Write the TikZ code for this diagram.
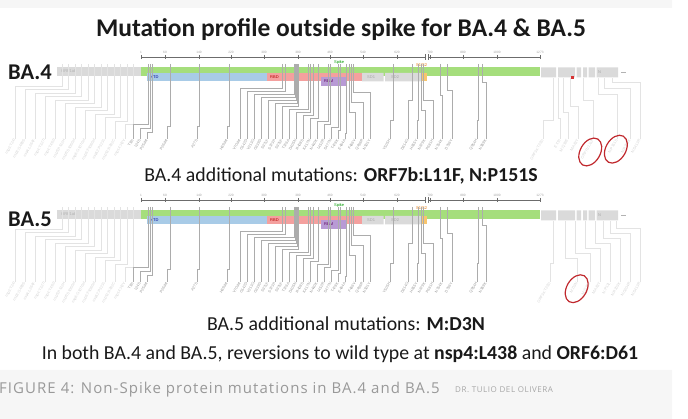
\documentclass[tikz,border=0pt]{standalone}
\usepackage{fontspec}
\setmainfont{Carlito}
\newfontfamily\captionfont[LetterSpace=7]{Open Sans}
\newfontfamily\tinyfont{Liberation Sans}
\definecolor{spikegreen}{HTML}{A5DE7C}
\definecolor{ntdblue}{HTML}{A8CBE7}
\definecolor{rbdred}{HTML}{F4A09E}
\definecolor{rbmpurple}{HTML}{B89AD5}
\definecolor{genegray}{HTML}{DADADA}
\definecolor{cleaveorange}{HTML}{F8C56E}
\definecolor{ringred}{HTML}{C0282D}
\definecolor{bandgray}{HTML}{F6F6F6}
\tikzset{
  titletext/.style={font=\bfseries\fontsize{25.5}{28}\selectfont, text=black!90, inner sep=0pt},
  panelname/.style={font=\bfseries\fontsize{22.5}{25}\selectfont, text=black!90, anchor=west, inner sep=0pt},
  bodytext/.style={font=\fontsize{19.8}{22}\selectfont, text=black!90, inner sep=0pt},
  axisline/.style={draw=gray!85!black, line width=0.6pt},
  mutline/.style={draw=gray!65, line width=0.5pt},
  faintline/.style={draw=gray!22, line width=0.5pt},
  mutlabel/.style={font=\tinyfont\fontsize{3.8}{4}\selectfont, text=gray!80, rotate=60, anchor=east, inner sep=0.5pt},
  faintlabel/.style={mutlabel, text=gray!35},
  ticklabel/.style={font=\tinyfont\fontsize{3.2}{4}\selectfont, text=gray!75, anchor=south, inner sep=0.5pt},
  boxlabel/.style={font=\tinyfont\fontsize{4}{5}\selectfont, anchor=west, inner sep=0pt},
  ring/.style={draw=ringred, line width=1.2pt}
}
\begin{document}
\begin{tikzpicture}[x=1pt,y=-1pt]
\useasboundingbox (0,0) rectangle (688,419);
\fill[bandgray] (0,0) rectangle (672,8) (0,370) rectangle (672,419);
\node[titletext] (title) at (341,30) {Mutation profile outside spike for BA.4 \& BA.5};
\foreach \p/\dy/\ny in {4/0/72,5/143/76} {
\begin{scope}[shift={(0,\dy)}]
\node[panelname] (ba\p) at (8,\ny) {BA.\p};
\fill[genegray] (57,67) rectangle (141,76);
\fill[spikegreen] (141,67) rectangle (540,76);
\fill[genegray] \foreach \a/\b in {541/556,558/575,576.5/581,583/587,588.5/595,596.5/618} {
    (\a,67.5) rectangle (\b,77.5)
  };
\fill[ntdblue] (147,73) rectangle (267,81.5);
\fill[rbdred] (267,73) rectangle (362,81.5);
\fill[genegray] (362,73) rectangle (383.5,81.5) (385,73) rectangle (422,81.5);
\fill[cleaveorange] (422,73) rectangle (427,81.5);
\fill[rbmpurple] (321,77) rectangle (347,86);
\draw[gray!60] (621,72.5) -- (626,72.5);
\node[boxlabel, text=gray!60] (orf\p) at (61,71.5) {ORF1ab};
\node[boxlabel, text=blue!60!black] (ntd\p) at (150,77) {NTD};
\node[boxlabel, text=red!70!black] (rbd\p) at (270,77) {RBD};
\node[boxlabel, text=violet!70!black] (rbm\p) at (324,81.5) {RBM};
\node[boxlabel, text=gray!70] (sdone\p) at (367,77) {SD1};
\node[boxlabel, text=gray!70] (sdtwo\p) at (391,77) {SD2};
\node[boxlabel, text=gray!70] (ngene\p) at (598,72) {N};
\node[boxlabel, text=green!60!black] (spike\p) at (334,62) {Spike};
\node[boxlabel, text=orange!90!black] (cleave\p) at (416,65) {S1/S2};
\draw[axisline] (141,57) -- (425,57) (428,57) -- (540,57)
  (425,54) -- (425,60) (428,54) -- (428,60)
  \foreach \x in {141,165,199,231,264,298,330,363,397,430,463,497,540} {
    (\x,55) -- (\x,59)
  };
\foreach \x/\v [count=\i] in {141/1,165/60,199/140,231/220,264/300,298/380,330/460,363/540,397/620,430/700,463/880,497/1000,540/1273}
  \node[ticklabel] (tick\p-\i) at (\x,54) {\v};
\foreach \t/\l/\e/\m [count=\i] in {62/15/86/nsp3:T24I,68.5/25/89.5/nsp3:G489S,75/35/93/nsp4:L264F,81.5/45/96.5/nsp4:T327I,88/55/100/nsp4:T492I,94.5/65/103.5/nsp5:P132H,101/75/107/nsp6:S106del,107.5/85/110.5/nsp6:G107del,114/95/114/nsp6:F108del,120.5/105/117.5/nsp12:P323L,127/115/121/nsp13:R392C,133.5/125/124.5/nsp14:I42V} {
  \node[faintlabel] (orflab\p-\i) at (\l,139) {\m};
  \draw[faintline] (\t,64) -- (\t,\e) -- (\l,\e) -- (orflab\p-\i.east);
}
\foreach \t/\l/\e/\m [count=\i] in {148/133/124/T19I,150/140/128/L24S,152/147/132/P25del,170/167/126/P26del,199/197/126/A27S,229/227/126/H69del,282/240/88/V70del,285/247/91/G142D,294/254/94/V213G,295/261/97/G339D,296/268/100/S371F,297/275/103/S373P,298/282/106/S375F,308/289/109/T376A,310/296/112/D405N,313/303/115/R408S,318/310/118/K417N,328/317/121/N440K,330/324/124/L452R,338/331/127/S477N,340/338/130/T478K,346/345/133/E484A,349/355/112/F486V,351/363/102/Q498R,353/370/92/N501Y,393/390/120/Y505H,412/408/100/D614G,418/417/120/H655Y,421/425/110/N679K,423/433/100/P681H,440/442/95/N764K,447/452/90/D796Y,478/477/120/Q954H,482/486/82/N969K} {
  \node[mutlabel] (lab\p-\i) at (\l,139) {\m};
  \draw[mutline] (\t,64) -- (\t,\e) -- (\l,\e) -- (lab\p-\i.east);
}
\end{scope}
}
\fill[red!80!black!80] (570.5,76.5) rectangle (573.5,79.5);
\foreach \t/\l/\e/\m [count=\i] in {553/543/120/ORF3a:T223I,558/560/118/E:T9I,563/568/112/M:Q19E,570/578/106/M:A63T,583/593/100/ORF7b:L11F,598/617/94/N:P151S,604/630/88/N:R203K,612/640/82/N:S413R} {
  \node[faintlabel] (rlab4-\i) at (\l,139) {\m};
  \draw[faintline] (\t,78) -- (\t,\e) -- (\l,\e) -- (rlab4-\i.east);
}
\coordinate (ringa) at ([shift={(3,3)}]rlab4-5.center);
\coordinate (ringb) at ([shift={(3,3)}]rlab4-6.center);
\draw[ring, rotate around={60:(ringa)}] (ringa) ellipse [x radius=15, y radius=10];
\draw[ring, rotate around={60:(ringb)}] (ringb) ellipse [x radius=15, y radius=10];
\begin{scope}[shift={(0,143)}]
\foreach \t/\l/\e/\m [count=\i] in {553/550/120/ORF3a:T223I,565/577/115/M:D3N,575/590/110/M:Q19E,585/600/105/M:A63T,595/610/100/N:P13L,603/620/95/N:R203K,610/630/90/N:G204R,616/640/85/N:S413R} {
  \node[faintlabel] (rlab5-\i) at (\l,139) {\m};
  \draw[faintline] (\t,78) -- (\t,\e) -- (\l,\e) -- (rlab5-\i.east);
}
\coordinate (ringc) at ([shift={(3,1)}]rlab5-2.center);
\draw[ring, rotate around={60:(ringc)}] (ringc) ellipse [x radius=15, y radius=10];
\end{scope}
\node[bodytext] (addfour) at (341,176) {BA.4 additional mutations: \textbf{ORF7b:L11F, N:P151S}};
\node[bodytext] (addfive) at (346,324) {BA.5 additional mutations: \textbf{M:D3N}};
\node[bodytext] (both) at (340,354) {In both BA.4 and BA.5, reversions to wild type at \textbf{nsp4:L438} and \textbf{ORF6:D61}};
\node[font=\captionfont\fontsize{15}{17}\selectfont, text=gray!80, anchor=west, inner sep=0pt] (caption) at (-1,390) {FIGURE 4: Non-Spike protein mutations in BA.4 and BA.5};
\node[font=\captionfont\fontsize{8}{10}\selectfont, text=gray!70, anchor=west, inner sep=0pt] (credit) at (455,390) {DR. TULIO DEL OLIVERA};
\end{tikzpicture}
\end{document}
